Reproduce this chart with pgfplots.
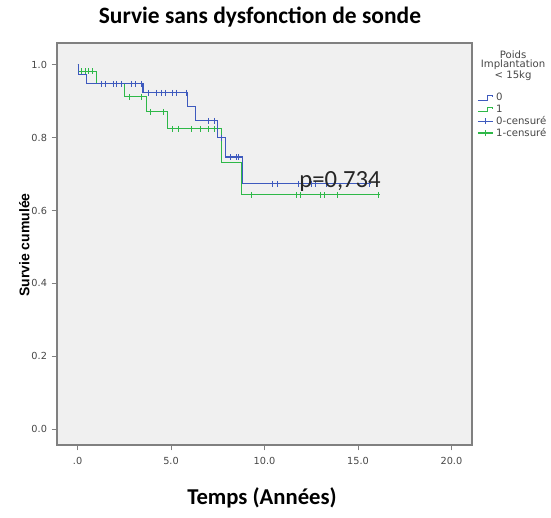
\documentclass[border=0pt]{standalone}
\usepackage{fontspec}
\setmainfont{Liberation Sans}
\newfontfamily\calibri{Carlito}
\newfontfamily\dejavu{DejaVu Sans}
\usepackage{pgfplots}
\pgfplotsset{compat=1.18}
\definecolor{c0}{RGB}{62,90,190}
\definecolor{c1}{RGB}{46,184,72}
\definecolor{bg}{RGB}{240,240,240}
\definecolor{frame}{RGB}{128,128,128}
\definecolor{txt}{RGB}{70,70,70}

\begin{document}
\begin{tikzpicture}
\useasboundingbox (-42.75pt,-54.75pt) rectangle (370.5pt,333.75pt);
\begin{axis}[
  at={(0,0)}, anchor=south west,
  scale only axis, width=311.25pt, height=301.5pt,
  xmin=-1.1, xmax=21.1, ymin=-0.044, ymax=1.06,
  clip mode=individual,
  axis background/.style={fill=bg},
  axis line style={draw=frame, line width=0.9pt},
  tick pos=left, tick align=outside, major tick length=4pt,
  tick style={draw=frame, line width=0.6pt},
  xtick={0,5,10,15,20}, xticklabels={.0,5.0,10.0,15.0,20.0},
  ytick={0,0.2,0.4,0.6,0.8,1.0}, yticklabels={0.0,0.2,0.4,0.6,0.8,1.0},
  tick label style={font=\dejavu\fontsize{7.3}{8}\selectfont, text=txt},
  xticklabel style={yshift=-1.5pt},
  title={Survie sans dysfonction de sonde},
  title style={font=\calibri\bfseries\fontsize{17.6}{20}\selectfont,
    at={(axis description cs:0.489,1.045)}, anchor=center},
  xlabel={Temps (Années)},
  xlabel style={font=\calibri\bfseries\fontsize{17}{20}\selectfont,
    at={(axis description cs:0.494,-0.132)}, anchor=center},
  ylabel={Survie cumulée},
  ylabel style={font=\bfseries\fontsize{10.5}{12}\selectfont,
    at={(axis description cs:-0.079,0.4975)}, anchor=center},
  legend style={at={(axis description cs:1.012,0.882)}, anchor=north west,
    draw=none, fill=none, inner sep=0pt,
    font=\dejavu\fontsize{7.6}{8}\selectfont, text=txt, row sep=-2.6pt,
    /tikz/every even column/.append style={column sep=1pt}},
  legend cell align=left,
]

% légende
\addlegendimage{legend image code/.code={\draw[c0, line width=0.8pt] (0cm,-0.06cm) -- (0.26cm,-0.06cm) -- (0.26cm,0.06cm) -- (0.4cm,0.06cm) -- (0.4cm,0.02cm);}}
\addlegendentry{0}
\addlegendimage{legend image code/.code={\draw[c1, line width=0.8pt] (0cm,-0.06cm) -- (0.26cm,-0.06cm) -- (0.26cm,0.06cm) -- (0.4cm,0.06cm) -- (0.4cm,0.02cm);}}
\addlegendentry{1}
\addlegendimage{legend image code/.code={\draw[c0, line width=0.8pt] (0cm,0cm) -- (0.4cm,0cm); \draw[c0, line width=0.8pt] (0.2cm,-0.08cm) -- (0.2cm,0.08cm);}}
\addlegendentry{0-censuré}
\addlegendimage{legend image code/.code={\draw[c1, line width=0.8pt] (0cm,0cm) -- (0.4cm,0cm); \draw[c1, line width=0.8pt] (0.2cm,-0.08cm) -- (0.2cm,0.08cm);}}
\addlegendentry{1-censuré}

% courbes de survie (Kaplan-Meier), groupe 1 sous le groupe 0
\addplot[c1, line width=0.85pt, const plot, forget plot]
  coordinates {
  (0,1.0) (0.05,0.982) (1.0,0.948) (2.5,0.912) (3.7,0.871) (4.8,0.824)
  (7.7,0.733) (8.75,0.643) (16.2,0.643)
};
\addplot[c1, only marks, mark=|, mark size=2.2pt, mark options={line width=0.7pt}, forget plot]
  coordinates {
  (0.2,0.982) (0.4,0.982) (0.6,0.982) (0.8,0.982)
  (2.8,0.912) (3.4,0.912) (3.9,0.871) (4.6,0.871)
  (5.1,0.824) (5.4,0.824) (6.1,0.824) (6.6,0.824) (7.0,0.824) (7.3,0.824)
  (9.3,0.643) (11.7,0.643) (11.9,0.643) (13.0,0.643) (13.2,0.643) (13.9,0.643) (16.1,0.643)
};
\addplot[c0, line width=0.85pt, const plot, forget plot]
  coordinates {
  (0,1.0) (0.05,0.973) (0.5,0.948) (3.5,0.923) (5.9,0.885) (6.3,0.846)
  (7.5,0.800) (7.9,0.747) (8.8,0.673) (15.7,0.673)
};
\addplot[c0, only marks, mark=|, mark size=2.2pt, mark options={line width=0.7pt}, forget plot]
  coordinates {
  (1.3,0.948) (1.5,0.948) (1.9,0.948) (2.1,0.948) (2.35,0.948) (2.9,0.948) (3.1,0.948) (3.4,0.948)
  (3.8,0.923) (4.2,0.923) (4.5,0.923) (4.7,0.923) (5.1,0.923) (5.3,0.923) (5.8,0.923)
  (7.0,0.846) (7.3,0.846) (7.7,0.800) (8.2,0.747) (8.5,0.747) (8.6,0.747)
  (10.4,0.673) (10.7,0.673) (11.8,0.673) (12.5,0.673) (12.7,0.673) (13.3,0.673) (15.6,0.673)
};

\node[font=\calibri\fontsize{18.5}{20}\selectfont, text=black!85] at (axis cs:14.04,0.681) {p=0,734};
\node[font=\dejavu\fontsize{7.6}{6.8}\selectfont, text=txt, align=center] at (axis description cs:1.099,0.943) {Poids\\Implantation\\< 15kg};
\end{axis}
\end{tikzpicture}
\end{document}
